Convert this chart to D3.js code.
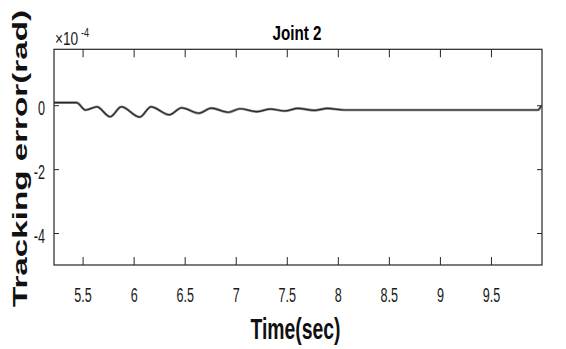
<!DOCTYPE html>
<html>
<head>
<meta charset="utf-8">
<script src="https://cdn.jsdelivr.net/npm/d3@7"></script>
<style>
  html, body { margin: 0; padding: 0; background: #fff; }
  svg { display: block; }
  text { font-family: "Liberation Sans", Arial, sans-serif; }
</style>
</head>
<body>
<svg id="chart" width="566" height="349"></svg>
<script>
// Tracking error of joint 2 (units of 1e-4 rad) versus time
const timeSec = [5.22, 5.44, 5.53, 5.64, 5.77, 5.88, 6.06, 6.17, 6.35, 6.47, 6.64, 6.76,
                 6.93, 7.04, 7.21, 7.34, 7.48, 7.61, 7.77, 7.90, 8.06, 8.5, 9.0, 9.5, 9.96, 9.99];
const errorE4 = [0.08, 0.08, -0.15, -0.05, -0.36, -0.05, -0.37, -0.05, -0.30, -0.08, -0.25, -0.09,
                 -0.22, -0.11, -0.20, -0.12, -0.18, -0.10, -0.16, -0.10, -0.15, -0.15, -0.15, -0.15, -0.15, -0.03];
const xTicks = [5.5, 6, 6.5, 7, 7.5, 8, 8.5, 9, 9.5];
const xTickLabels = ["5.5", "6", "6.5", "7", "7.5", "8", "8.5", "9", "9.5"];
const yTicks = [0, -2, -4];
const yTickLabels = ["0", "-2", "-4"];
const xDomain = [5.22, 10];
const yDomain = [-5, 1.75];

const W = 566, H = 349;
const margin = { top: 49.3, right: 24, bottom: 84, left: 54 };
const iw = W - margin.left - margin.right;
const ih = H - margin.top - margin.bottom;
const axisColor = "#262626";
const narrow = 0.6;

const svg = d3.select("#chart");
const g = svg.append("g").attr("transform", `translate(${margin.left},${margin.top})`);

const x = d3.scaleLinear().domain(xDomain).range([0, iw]);
const y = d3.scaleLinear().domain(yDomain).range([ih, 0]);

// data line: soft grey halo under a dark core
const data = timeSec.map((t, i) => ({ t, e: errorE4[i] }));
const line = d3.line().x(d => x(d.t)).y(d => y(d.e)).curve(d3.curveMonotoneX);
g.append("path").datum(data)
  .attr("d", line)
  .attr("fill", "none")
  .attr("stroke", "#8a8a8a")
  .attr("stroke-width", 2.6)
  .attr("stroke-linejoin", "round");
g.append("path").datum(data)
  .attr("d", line)
  .attr("fill", "none")
  .attr("stroke", "#2a2a2a")
  .attr("stroke-width", 1.2)
  .attr("stroke-linejoin", "round");

function styleAxis(sel) {
  sel.select(".domain").remove();
  sel.selectAll(".tick line").attr("stroke", axisColor).attr("stroke-width", 1);
}

// bottom axis with labels (ticks point inward)
const xb = g.append("g").attr("transform", `translate(0,${ih})`)
  .call(d3.axisBottom(x).tickValues(xTicks).tickFormat((d, i) => xTickLabels[i])
    .tickSizeInner(-8).tickSizeOuter(0).tickPadding(21.7));
styleAxis(xb);
xb.selectAll(".tick text")
  .attr("font-size", 21).attr("fill", "#1a1a1a")
  .attr("transform", `scale(${narrow},1)`);

// top axis ticks only
const xt = g.append("g")
  .call(d3.axisTop(x).tickValues(xTicks).tickFormat("").tickSizeInner(-8).tickSizeOuter(0));
styleAxis(xt);

// left axis with labels
const yl = g.append("g")
  .call(d3.axisLeft(y).tickValues(yTicks).tickFormat((d, i) => yTickLabels[i])
    .tickSizeInner(-5).tickSizeOuter(0));
styleAxis(yl);
yl.selectAll(".tick text")
  .attr("font-size", 21).attr("fill", "#1a1a1a")
  .attr("x", -9 / narrow).attr("dy", "0.45em")
  .attr("transform", `scale(${narrow},1)`);

// right axis ticks only
const yr = g.append("g").attr("transform", `translate(${iw},0)`)
  .call(d3.axisRight(y).tickValues(yTicks).tickFormat("").tickSizeInner(-5).tickSizeOuter(0));
styleAxis(yr);

// axes box
g.append("rect").attr("width", iw).attr("height", ih)
  .attr("fill", "none").attr("stroke", axisColor).attr("stroke-width", 1.2);

// exponent marker
svg.append("text")
  .attr("transform", "translate(55,44.5) scale(0.76,1)")
  .attr("font-size", 18).attr("fill", "#1a1a1a")
  .text("×10");
svg.append("text")
  .attr("transform", "translate(81,36.5) scale(0.76,1)")
  .attr("font-size", 12).attr("fill", "#1a1a1a")
  .text("-4");

// title
svg.append("text").attr("x", 297).attr("y", 39.5)
  .attr("text-anchor", "middle").attr("font-size", 21).attr("font-weight", "bold")
  .attr("fill", "#000")
  .attr("textLength", 49).attr("lengthAdjust", "spacingAndGlyphs")
  .text("Joint 2");

// x label
svg.append("text").attr("x", 295.5).attr("y", 338.5)
  .attr("text-anchor", "middle").attr("font-size", 30).attr("font-weight", "bold")
  .attr("fill", "#111")
  .attr("textLength", 90).attr("lengthAdjust", "spacingAndGlyphs")
  .text("Time(sec)");

// y label
svg.append("text")
  .attr("transform", "translate(27,158.5) rotate(-90)")
  .attr("text-anchor", "middle").attr("font-size", 21).attr("font-weight", "bold")
  .attr("fill", "#111")
  .attr("textLength", 297).attr("lengthAdjust", "spacingAndGlyphs")
  .text("Tracking error(rad)");
</script>
</body>
</html>
